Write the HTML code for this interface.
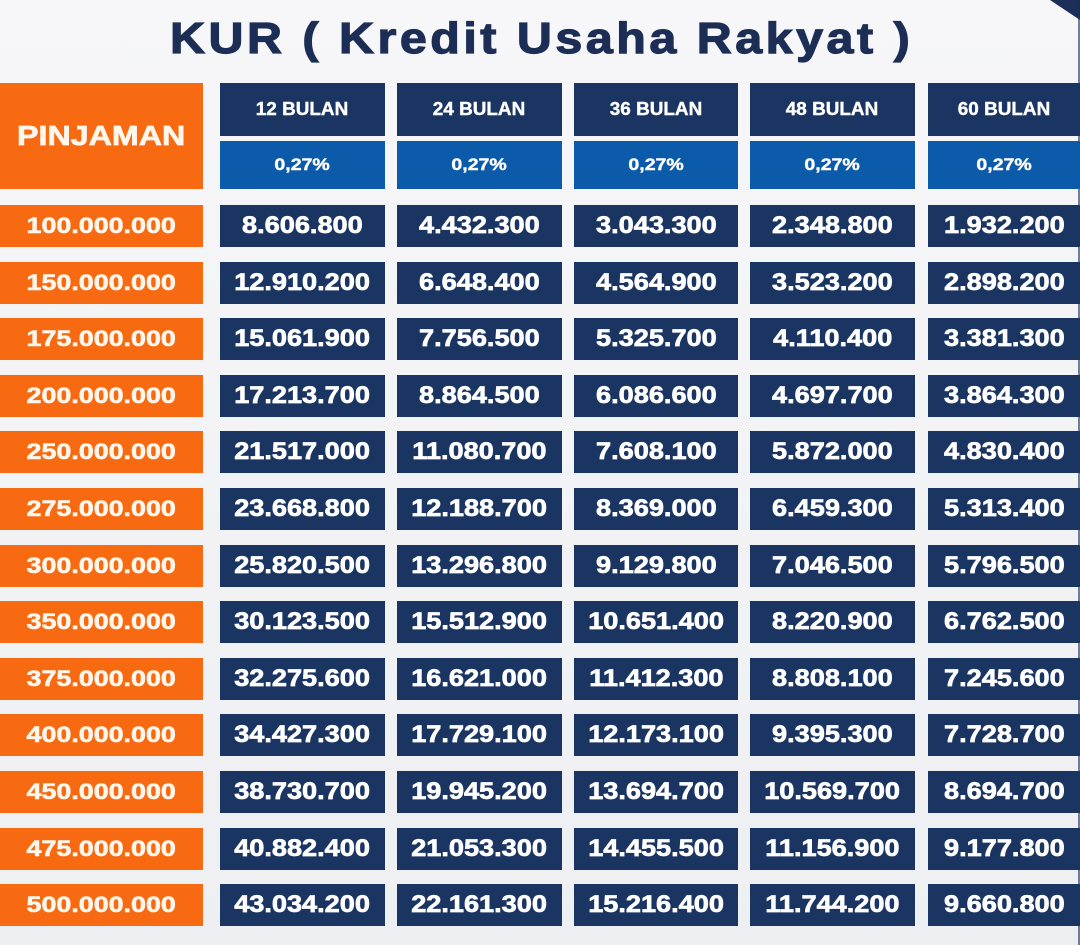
<!DOCTYPE html>
<html><head><meta charset="utf-8"><style>
html,body{margin:0;padding:0}
body{width:1080px;height:945px;position:relative;overflow:hidden;background:linear-gradient(180deg,#f7f7f9 0%,#eeeff2 100%);font-family:"Liberation Sans",sans-serif;font-weight:bold}
.b{position:absolute;display:flex;align-items:center;justify-content:center;color:#fff;white-space:nowrap}
.b span{display:inline-block}
.o{background:#f76a12;left:0;width:203px;font-size:22px;color:#fff6ec}
.o span{transform:scaleX(1.22);-webkit-text-stroke:0.6px #fff6ec}
.n{background:#1b3563;font-size:24px}
.n span{transform:scaleX(1.13);-webkit-text-stroke:0.7px #fff}
.h1{background:#1b3563;font-size:18px;top:83px;height:53px}
.h1 span{transform:scaleX(1.05);-webkit-text-stroke:0.4px #fff}
.h2{background:#0c5bab;font-size:17px;top:141px;height:48px}
.h2 span{transform:scaleX(1.15);-webkit-text-stroke:0.4px #fff}
#title{position:absolute;left:170px;top:14px;font-size:44px;color:#1c2e55;white-space:nowrap;transform-origin:0 0;transform:scaleX(1.1);-webkit-text-stroke:1.2px #1c2e55;letter-spacing:3.2px}
</style></head><body>
<svg style="position:absolute;left:0;top:0" width="1080" height="945"><polygon points="1050,0 1080,0 1080,20" fill="#1b2f5a"/><rect x="1078" y="0" width="2" height="945" fill="#1b2f5a" opacity="0.6"/></svg>
<div id="title">KUR ( Kredit Usaha Rakyat )</div>
<div class="b" style="background:#f76a12;left:0;width:203px;top:83px;height:106px;font-size:28px;color:#fff6ec"><span style="transform:scaleX(1.15);-webkit-text-stroke:0.7px #fff6ec">PINJAMAN</span></div>
<div id="c"></div>
<script>
const cols=[[220,165],[397,165],[574,164],[750,165],[928,152]];
const hdr=["12 BULAN","24 BULAN","36 BULAN","48 BULAN","60 BULAN"];
const rows=[
["100.000.000","8.606.800","4.432.300","3.043.300","2.348.800","1.932.200"],
["150.000.000","12.910.200","6.648.400","4.564.900","3.523.200","2.898.200"],
["175.000.000","15.061.900","7.756.500","5.325.700","4.110.400","3.381.300"],
["200.000.000","17.213.700","8.864.500","6.086.600","4.697.700","3.864.300"],
["250.000.000","21.517.000","11.080.700","7.608.100","5.872.000","4.830.400"],
["275.000.000","23.668.800","12.188.700","8.369.000","6.459.300","5.313.400"],
["300.000.000","25.820.500","13.296.800","9.129.800","7.046.500","5.796.500"],
["350.000.000","30.123.500","15.512.900","10.651.400","8.220.900","6.762.500"],
["375.000.000","32.275.600","16.621.000","11.412.300","8.808.100","7.245.600"],
["400.000.000","34.427.300","17.729.100","12.173.100","9.395.300","7.728.700"],
["450.000.000","38.730.700","19.945.200","13.694.700","10.569.700","8.694.700"],
["475.000.000","40.882.400","21.053.300","14.455.500","11.156.900","9.177.800"],
["500.000.000","43.034.200","22.161.300","15.216.400","11.744.200","9.660.800"]];
let h="";
cols.forEach((c,i)=>{
h+=`<div class="b h1" style="left:${c[0]}px;width:${c[1]}px"><span>${hdr[i]}</span></div>`;
h+=`<div class="b h2" style="left:${c[0]}px;width:${c[1]}px"><span>0,27%</span></div>`;
});
rows.forEach((r,j)=>{
const t=Math.round(205+j*56.6);
h+=`<div class="b o" style="top:${t}px;height:42px"><span>${r[0]}</span></div>`;
cols.forEach((c,i)=>{h+=`<div class="b n" style="left:${c[0]}px;width:${c[1]}px;top:${t}px;height:42px"><span>${r[i+1]}</span></div>`;});
});
document.getElementById("c").innerHTML=h;
</script>
</body></html>
